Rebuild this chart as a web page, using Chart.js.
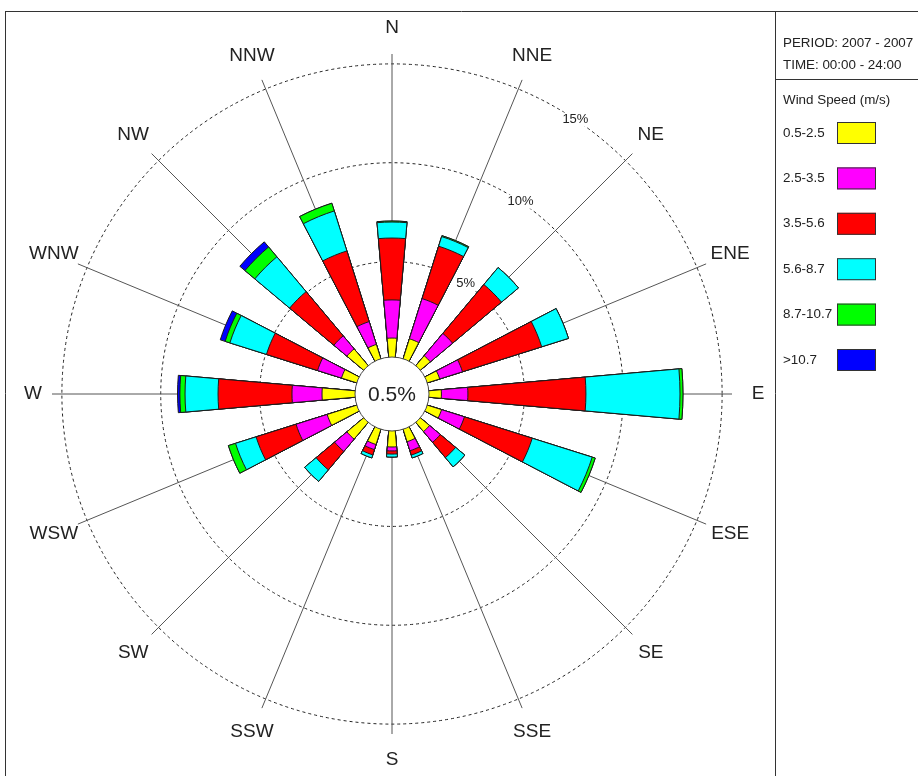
<!DOCTYPE html>
<html>
<head>
<meta charset="utf-8">
<script src="https://cdn.jsdelivr.net/npm/chart.js@4.4.1/dist/chart.umd.min.js"></script>
<style>
  html, body { margin: 0; padding: 0; background: #fff; }
  #wrap { position: relative; width: 918px; height: 776px; }
</style>
</head>
<body>
<div id="wrap"><canvas id="windRose"></canvas></div>
<script>
// Wind rose - frequency (%) per direction and speed class
const directions = ['N', 'NNE', 'NE', 'ENE', 'E', 'ESE', 'SE', 'SSE', 'S', 'SSW', 'SW', 'WSW', 'W', 'WNW', 'NW', 'NNW'];
const speedClasses = ['0.5-2.5', '2.5-3.5', '3.5-5.6', '5.6-8.7', '8.7-10.7', '>10.7'];
const classColors = ['#FFFF00', '#FF00FF', '#FF0000', '#00FFFF', '#00FF00', '#0000FF'];

//                    N     NNE   NE    ENE   E     ESE   SE    SSE   S     SSW   SW    WSW   W     WNW   NW    NNW
const speed0_5to2_5 = [1.13, 1.23, 0.83, 0.83, 0.80, 0.93, 0.78, 0.83, 0.98, 0.98, 1.28, 1.74, 1.84, 0.98, 1.28, 0.93];
const speed2_5to3_5 = [1.93, 2.13, 1.47, 1.21, 1.34, 1.21, 0.71, 0.48, 0.20, 0.27, 0.81, 1.65, 1.52, 1.27, 0.86, 1.21];
const speed3_5to5_6 = [3.13, 2.78, 3.23, 4.20, 5.97, 3.60, 1.01, 0.23, 0.16, 0.28, 1.22, 2.12, 3.74, 2.71, 2.92, 3.75];
const speed5_6to8_7 = [0.81, 0.51, 1.12, 1.42, 4.76, 3.18, 0.61, 0.15, 0.15, 0.16, 0.76, 1.09, 1.67, 1.94, 2.30, 2.12];
const speed8_7to10_7 = [0.05, 0.05, 0, 0, 0.15, 0.16, 0, 0, 0, 0, 0, 0.38, 0.26, 0.25, 0.65, 0.41];
const speedOver10_7 = [0, 0, 0, 0, 0, 0, 0, 0, 0, 0, 0, 0, 0.12, 0.26, 0.34, 0];

const calmPct = 0.5;
const ringTicks = [5, 10, 15];
const periodText = 'PERIOD: 2007 - 2007';
const timeText = 'TIME: 00:00 - 24:00';
const legendTitle = 'Wind Speed (m/s)';

const PETAL = 10;          // degrees per petal
const GAP = 22.5 - PETAL;  // empty wedge between petals
const FONT = '"Liberation Sans", Arial, sans-serif';

// stack the classes: each dataset holds the running total up to its class
const bins = [speed0_5to2_5, speed2_5to3_5, speed3_5to5_6, speed5_6to8_7, speed8_7to10_7, speedOver10_7];
let running = directions.map(() => 0);
const cumulative = bins.map((b) => {
  running = running.map((v, i) => v + b[i]);
  return running.slice();
});

const roseDecor = {
  id: 'roseDecor',
  afterDatasetsDraw(chart) {
    const ctx = chart.ctx;
    const s = chart.scales.r;
    const cx = s.xCenter, cy = s.yCenter;
    ctx.save();
    // calm circle
    ctx.beginPath();
    ctx.arc(cx, cy, 37, 0, Math.PI * 2);
    ctx.fillStyle = '#fff';
    ctx.fill();
    ctx.strokeStyle = '#444';
    ctx.lineWidth = 1;
    ctx.stroke();
    ctx.fillStyle = '#222';
    ctx.textAlign = 'center';
    ctx.textBaseline = 'middle';
    ctx.font = '21px ' + FONT;
    ctx.fillText(calmPct + '%', cx, cy + 1);

    // direction labels
    ctx.font = '19px ' + FONT;
    directions.forEach((d, i) => {
      const p = s.getPointPosition(i, d === 'W' ? 359 : 366);
      ctx.fillText(d, p.x, p.y);
    });

    // ring labels, between NNE and NE
    ctx.font = '13px ' + FONT;
    ringTicks.forEach((t) => {
      const p = s.getPointPosition(1, s.getDistanceFromCenterForValue(t), Math.PI / 16);
      const w = ctx.measureText(t + '%').width;
      ctx.fillStyle = '#fff';
      ctx.fillRect(p.x - w / 2 - 1, p.y - 7, w + 2, 14);
      ctx.fillStyle = '#222';
      ctx.fillText(t + '%', p.x, p.y);
    });
    ctx.restore();
  },
  afterDraw(chart) {
    const ctx = chart.ctx;
    ctx.save();
    ctx.strokeStyle = '#333';
    ctx.lineWidth = 1;
    ctx.beginPath();
    ctx.moveTo(5, 11.5); ctx.lineTo(918, 11.5);
    ctx.moveTo(5.5, 11); ctx.lineTo(5.5, 776);
    ctx.moveTo(775.5, 11); ctx.lineTo(775.5, 776);
    ctx.moveTo(775, 79.5); ctx.lineTo(918, 79.5);
    ctx.stroke();

    ctx.fillStyle = '#222';
    ctx.font = '13.4px ' + FONT;
    ctx.textAlign = 'left';
    ctx.textBaseline = 'middle';
    ctx.fillText(periodText, 783, 43);
    ctx.fillText(timeText, 783, 65);
    ctx.fillText(legendTitle, 783, 100);

    chart.data.datasets.forEach((ds, k) => {
      const y = 133 + k * 45.4;
      ctx.fillStyle = '#222';
      ctx.fillText(ds.label, 783, y);
      ctx.fillStyle = classColors[k];
      ctx.fillRect(837, y - 11, 39, 22);
      ctx.strokeStyle = '#333';
      ctx.strokeRect(837.5, y - 10.5, 38, 21);
    });
    ctx.restore();
  }
};

new Chart(document.getElementById('windRose'), {
  type: 'polarArea',
  data: {
    labels: directions,
    datasets: cumulative.map((vals, k) => ({
      label: speedClasses[k],
      rAxisID: 'rData',
      data: vals.flatMap((v) => [v, 0]),
      angle: (c) => (c.dataIndex % 2 === 0 ? PETAL : GAP),
      backgroundColor: (c) => (c.dataIndex % 2 === 0 ? classColors[k] : 'rgba(0,0,0,0)'),
      borderColor: '#1a1a1a',
      borderWidth: (c) => (c.dataIndex % 2 === 0 ? 1 : 0)
    }))
  },
  options: {
    responsive: true,
    maintainAspectRatio: false,
    animation: false,
    layout: { padding: { left: 52, top: 54, right: 186, bottom: 42 } },
    plugins: {
      legend: { display: false },
      tooltip: { enabled: false }
    },
    scales: {
      r: {
        min: -1.7,
        max: 15.5,
        startAngle: 0,
        afterBuildTicks: (s) => { s.ticks = ringTicks.map((v) => ({ value: v })); },
        ticks: { display: false },
        grid: { color: '#222', lineWidth: 1, circular: true },
        border: { dash: [3, 3] },
        angleLines: { display: true, color: '#555', lineWidth: 1 },
        pointLabels: { display: false }
      },
      rData: {
        type: 'radialLinear',
        min: -1.7,
        max: 15.5,
        startAngle: -PETAL / 2,
        display: false
      }
    }
  },
  plugins: [roseDecor]
});
</script>
</body>
</html>
